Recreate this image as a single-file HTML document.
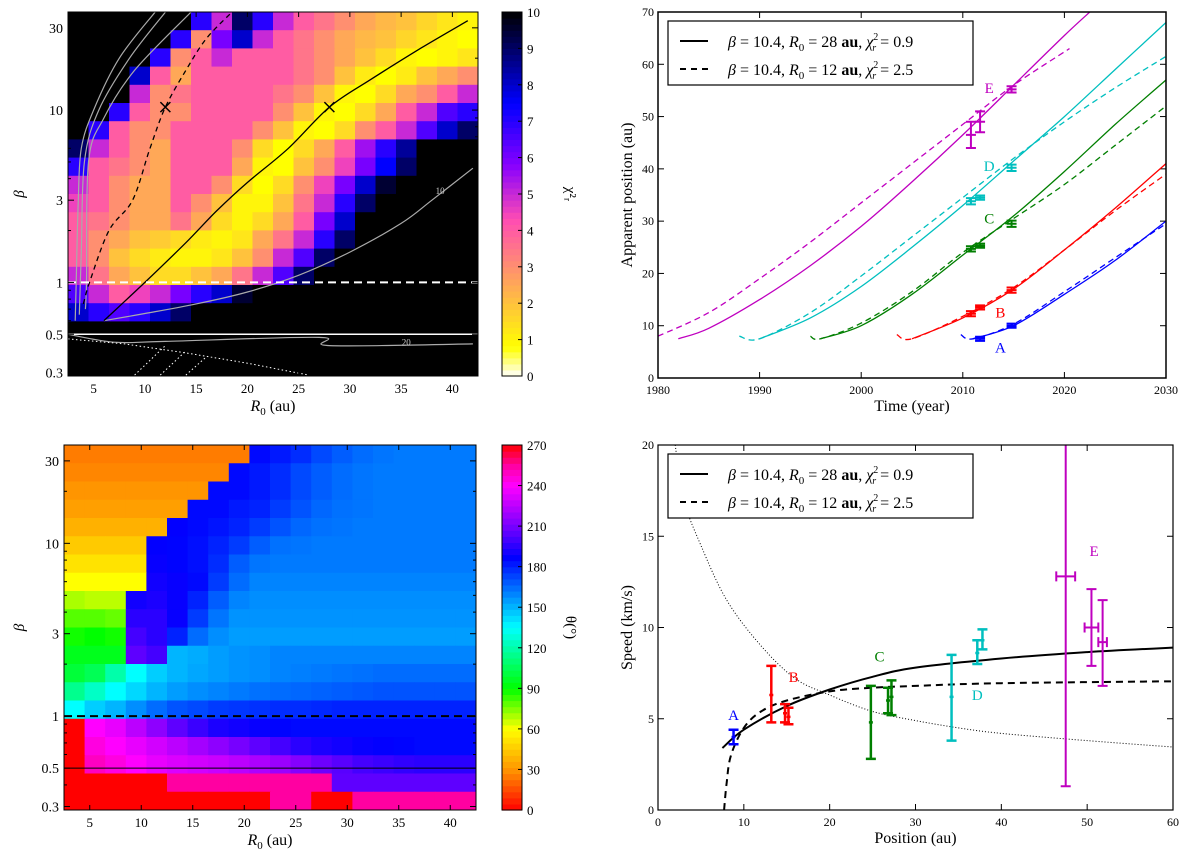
<!DOCTYPE html>
<html><head><meta charset="utf-8"><style>
body{margin:0;background:#fff;}
svg{display:block;font-family:"Liberation Serif",serif;}
</style></head><body>
<svg id="fig" width="1200" height="853" viewBox="0 0 1200 853" xmlns="http://www.w3.org/2000/svg"></svg>
<script>
// ---------- DATA ----------
const chiRows = [
[10,10,10,10,10,10,7,5,9,7,5,4,3.5,3,2.5,2.2,2,1.6,1.3,1.0],
[10,10,10,10,10,7,3,6,8,5,4,3.5,3,2.5,2.2,2,1.6,1.3,1.0,0.8],
[10,10,10,10,7,3,4,5,4,4,4,3.5,3,2.5,2,1.5,1,0.8,1,1.3],
[10,10,10,8,4,2.5,4,4,4,4,4,3.5,3,2,1.2,0.8,1.2,2,2.5,3],
[10,10,10,5,3,3.5,4,4,4,4,3.5,3,2,1,0.8,1.5,2.5,3,4,5],
[10,10,7,4,3,3,4,4,4,4,3,2,1,0.8,1.5,2.5,4,5,6.5,7],
[10,7,4,3,3,4,4,4,4,3,2,1,0.8,1.5,3,4,5,6.5,8,9],
[9,5,4,3,2.5,4,4,4,3,1.5,0.8,1.5,2.5,4,5.5,7,8.5,10,10,10],
[7,4,3.5,3,2.5,4,4,4,2.5,1,0.8,2,3,4.5,6,7.5,9,10,10,10],
[5,4,3,2.5,2.5,4,4,3,1.5,0.8,1.5,3,4.5,6,8,9.5,10,10,10,10],
[4.5,4,3,2.5,2.5,4,3,2,1,1,2,3.5,5,7,9,10,10,10,10,10],
[4,3.5,3,2.5,2.5,3.5,2.5,1.5,1,1.5,2.5,4,6,8,10,10,10,10,10,10],
[4,3,2.5,2,1.8,1.5,1.2,1,1.3,2.5,3.5,5,7,9,10,10,10,10,10,10],
[4,3,2,1.5,1.2,1,1,1.3,2,3,5,6.5,9,10,10,10,10,10,10,10],
[5,3.5,2.5,2,1.5,1.5,2,2.5,3.5,5,6.5,9,10,10,10,10,10,10,10,10],
[6.5,5,4,4.5,5,6,7,8,9.5,10,10,10,10,10,10,10,10,10,10,10],
[8,7,6.5,7,8,9,10,10,10,10,10,10,10,10,10,10,10,10,10,10],
[10,10,10,10,10,10,10,10,10,10,10,10,10,10,10,10,10,10,10,10],
[10,10,10,10,10,10,10,10,10,10,10,10,10,10,10,10,10,10,10,10],
[10,10,10,10,10,10,10,10,10,10,10,10,10,10,10,10,10,10,10,10]
];
const thetaRows = [
[25,25,25,25,25,25,25,25,25,185,182,178,172,168,165,163,162,162,162,162],
[27,27,27,27,27,27,27,27,185,182,178,172,168,165,163,162,162,162,162,162],
[30,30,30,30,30,30,30,185,185,182,178,172,168,165,163,162,162,162,162,162],
[33,33,33,33,33,33,185,185,182,180,175,170,166,164,163,162,162,162,162,162],
[38,38,38,38,38,187,185,183,180,175,170,166,164,163,162,162,162,162,162,162],
[45,45,45,45,187,186,184,180,175,168,164,163,162,162,162,162,162,162,162,162],
[52,52,52,52,188,186,184,178,168,163,162,162,162,162,162,162,162,162,162,162],
[60,60,60,60,190,188,185,175,165,160,160,160,160,160,160,160,160,160,160,160],
[70,68,68,190,192,188,180,168,160,158,158,158,158,158,158,158,158,158,158,158],
[80,80,78,195,195,188,175,163,157,157,157,157,157,157,157,157,157,157,157,157],
[88,90,88,200,195,180,165,158,155,155,155,155,155,155,155,155,155,155,155,155],
[95,95,95,205,200,150,152,155,157,158,160,160,160,160,160,160,160,160,160,160],
[100,105,120,135,145,150,153,155,157,158,160,161,162,163,164,165,165,165,165,165],
[115,125,135,143,150,155,158,160,162,164,165,166,167,168,169,170,170,170,170,170],
[135,145,150,158,165,170,172,175,176,177,178,178,179,180,180,180,180,180,180,180],
[0,240,235,225,215,205,198,192,190,188,186,185,185,185,185,185,185,185,185,185],
[0,245,240,235,230,225,220,215,210,205,200,195,192,190,188,187,186,185,185,185],
[0,250,245,240,235,232,230,228,225,222,218,213,208,204,200,198,196,195,195,195],
[0,0,0,0,0,255,255,255,255,255,255,255,255,205,205,205,205,205,205,205],
[0,0,0,0,0,0,0,0,0,0,255,255,0,0,255,255,255,255,255,255]
];
const validR0 = [6,10,14,17,20,24,28,32,37,41.5];
const validBeta = [0.6,1.0,1.7,2.6,3.8,6,10.4,15,23,33];
const dashR0 = [4,4.6,6.5,8.8,10.5,12,14,16,18.5];
const dashBeta = [0.75,1,2,3,6,10.4,17,26,37];
const c10R0 = [6,10,15,20,25,30,35,38,42];
const c10Beta = [0.6,0.66,0.75,0.88,1.1,1.5,2.2,3,4.6];
const cl1R0 = [3.2,3.3,3.5,3.8,5,7.5,11]; const cl1B = [0.6,1,3,6,10,20,37];
const cl2R0 = [3.6,3.8,4.1,5.5,8.5,12]; const cl2B = [0.65,1.5,5,10,20,37];
const cl3R0 = [4.2,4.3,4.5,6,9,14.5]; const cl3B = [0.7,1,5,9,17,37];
const c20R0 = [2.5,7,12,27,28,42]; const c20B = [0.5,0.45,0.455,0.48,0.43,0.44];
const bestR0 = [12,28]; const bestBeta = [10.4,10.4];

const Es_t=[1982,1985,1990,1995,2000,2005,2010,2015,2020,2022.5], Es_y=[7.5,9.5,15,21.5,29,37.5,46.5,56,65.5,70];
const Ed_t=[1980,1985,1990,1995,2000,2005,2010,2015,2020.5], Ed_y=[8,12.5,19,26,33.5,41,48.5,56,63];
const Ds_t=[1990,1995,2000,2005,2010,2015,2020,2025,2030], Ds_y=[7.5,11.5,17.5,25,33,41.5,50,59,68];
const Dd_t=[1988,1990,1995,2000,2005,2010,2015,2020,2025,2030], Dd_y=[8,7.5,12.5,19.5,27,34.5,42,49,55.5,61.5];
const Cs_t=[1996,2000,2005,2010,2015,2020,2025,2030], Cs_y=[7.5,10,16,23.5,31,39.5,48.5,57];
const Cd_t=[1995,1996,2000,2005,2010,2015,2020,2025,2030], Cd_y=[8,7.5,10.5,16.5,24,30.5,37,44.5,52];
const Bs_t=[2005,2010,2015,2020,2025,2030], Bs_y=[7.5,11.5,17,24.5,32.5,41];
const Bd_t=[2003.5,2005,2010,2015,2020,2025,2030], Bd_y=[8.3,7.5,11.8,17.3,24.5,32,39];
const As_t=[2011,2015,2020,2025,2030], As_y=[7.5,10,16,22.5,30];
const Ad_t=[2009.8,2011,2015,2020,2025,2030], Ad_y=[8.3,7.5,10.3,16.5,23,29.5];
const obsT = [2010.8,2011.7,2014.8, 2010.8,2011.7,2014.8, 2010.8,2011.7,2014.8, 2010.8,2011.7,2014.8, 2011.7,2014.8];
const obsP = [46.5,49,55.2, 33.8,34.5,40.2, 24.7,25.3,29.5, 12.3,13.5,16.8, 7.5,10];
const obsE = [2.5,2,0.6, 0.6,0.4,0.6, 0.5,0.4,0.6, 0.5,0.4,0.5, 0.4,0.4];
const obsC = ['E','E','E','D','D','D','C','C','C','B','B','B','A','A'];

const solidX=[7.5,10,15,20,25,30,40,50,60], solidV=[3.4,4.4,5.7,6.6,7.3,7.8,8.3,8.65,8.9];
const dashX=[7.7,8,8.5,10,12,15,20,25,30,40,60], dashV=[0,1.5,3,4.5,5.4,6,6.5,6.7,6.8,6.95,7.05];
const dotX=[2,3,5,8,12,16,20,25,30,35,40,50,60], dotV=[20,17,14.5,11.5,9,7.2,6.3,5.4,4.9,4.5,4.2,3.8,3.45];
const spX=[8.8,13.2,14.8,15.2,24.8,26.8,27.2,34.2,37.2,37.8,47.5,50.5,51.8];
const spV=[4.0,6.3,5.3,5.1,4.8,6.0,6.2,6.2,8.6,9.3,12.8,10,9.2];
const spLo=[3.6,4.8,4.8,4.7,2.8,5.3,5.2,3.8,8.0,8.8,1.3,7.9,6.8];
const spHi=[4.4,7.9,5.8,5.6,6.8,6.7,7.1,8.5,9.3,9.9,20.5,12.1,11.5];
const spXe=[0,0,0,0,0,0,0,0,0,0,1.1,0.8,0.5];
const spC=['A','B','B','B','C','C','C','D','D','D','E','E','E'];

const COL={A:'#0000ff',B:'#ff0000',C:'#007f00',D:'#00bfbf',E:'#bf00bf'};

// ---------- helpers ----------
const NS='http://www.w3.org/2000/svg';
const svg=document.getElementById('fig');
function mk(tag,attrs,parent){const e=document.createElementNS(NS,tag);for(const k in attrs)e.setAttribute(k,attrs[k]);(parent||svg).appendChild(e);return e;}
function txt(x,y,s,size,anchor,parent,extra){const t=mk('text',Object.assign({x:x,y:y,'font-size':size,'text-anchor':anchor||'middle'},extra||{}),parent);t.textContent=s;return t;}
function lin(d0,d1,p0,p1){return v=>p0+(v-d0)/(d1-d0)*(p1-p0);}
function gp2(v){let t=1-Math.min(10,Math.max(0,v))/10;const c=x=>Math.max(0,Math.min(1,x));
 let r=c(t/0.32-0.78125),g=c(2*t-0.84),b;
 if(t<0.25)b=4*t;else if(t<0.42)b=1;else if(t<0.92)b=-2*t+1.84;else b=t/0.08-11.5;b=c(b);
 return `rgb(${Math.round(r*255)},${Math.round(g*255)},${Math.round(b*255)})`;}
const hueStops=[[0,0],[30,35],[60,60],[90,120],[135,180],[180,232],[210,268],[240,300],[255,322],[270,360]];
function thetaCol(v){for(let i=1;i<hueStops.length;i++){if(v<=hueStops[i][0]){const a=hueStops[i-1],b=hueStops[i];const h=a[1]+(v-a[0])/(b[0]-a[0])*(b[1]-a[1]);return `hsl(${h},100%,50%)`;}}return 'hsl(0,100%,50%)';}
function pathD(xs,ys,fx,fy){return xs.map((x,i)=>(i?'L':'M')+fx(x).toFixed(1)+','+fy(ys[i]).toFixed(1)).join(' ');}
function smoothD(xs,ys,fx,fy){const p=xs.map((x,i)=>[fx(x),fy(ys[i])]);let d='M'+p[0][0].toFixed(1)+','+p[0][1].toFixed(1);
 for(let i=0;i<p.length-1;i++){const p0=p[Math.max(0,i-1)],p1=p[i],p2=p[i+1],p3=p[Math.min(p.length-1,i+2)];
  const c1=[p1[0]+(p2[0]-p0[0])/6,p1[1]+(p2[1]-p0[1])/6],c2=[p2[0]-(p3[0]-p1[0])/6,p2[1]-(p3[1]-p1[1])/6];
  d+=`C${c1[0].toFixed(1)},${c1[1].toFixed(1)} ${c2[0].toFixed(1)},${c2[1].toFixed(1)} ${p2[0].toFixed(1)},${p2[1].toFixed(1)}`;}
 return d;}

// ---------- heatmap panel ----------
function heatPanel(cfg){
 const g=mk('g',{});  
 const fx=lin(2.5,42.5,cfg.x0,cfg.x1), fy=v=>lin(-0.543,1.569,cfg.y1,cfg.y0)(Math.log10(v));
 const fly=lin(-0.543,1.569,cfg.y1,cfg.y0);
 const clip=mk('clipPath',{id:cfg.name+'-clip'},g);mk('rect',{x:cfg.x0,y:cfg.y0,width:cfg.x1-cfg.x0,height:cfg.y1-cfg.y0},clip);
 const cells=mk('g',{'clip-path':`url(#${cfg.name}-clip)`},g);
 
 const rows=cfg.data, nr=rows.length, nc=rows[0].length, dl=(1.569+0.543)/nr;
 for(let r=0;r<nr;r++)for(let c=0;c<nc;c++){
  const xa=fx(2.5+c*2), xb=fx(2.5+(c+1)*2), ya=fly(1.569-r*dl), yb=fly(1.569-(r+1)*dl);
  const cell=mk('rect',{x:xa,y:ya,width:xb-xa+0.6,height:yb-ya+0.6,fill:cfg.color(rows[r][c])},cells);
  
  
 }
 cfg.overlay(cells,fx,fy);
 mk('rect',{x:cfg.x0,y:cfg.y0,width:cfg.x1-cfg.x0,height:cfg.y1-cfg.y0,fill:'none',stroke:'#000','stroke-width':1},g);
 [5,10,15,20,25,30,35,40].forEach(v=>{const x=fx(v);mk('line',{x1:x,y1:cfg.y1,x2:x,y2:cfg.y1-5,stroke:'#000'},g);mk('line',{x1:x,y1:cfg.y0,x2:x,y2:cfg.y0+5,stroke:'#000'},g);
  const t=txt(x,cfg.y1+17,String(v),13,'middle',g);});
 [0.3,0.5,1,3,10,30].forEach(v=>{const y=fy(v);mk('line',{x1:cfg.x0,y1:y,x2:cfg.x0+6,y2:y,stroke:'#000'},g);mk('line',{x1:cfg.x1,y1:y,x2:cfg.x1-6,y2:y,stroke:'#000'},g);
  const t=txt(cfg.x0-5,y+5,String(v),14,'end',g);});
 [0.4,0.6,0.7,0.8,0.9,2,4,5,6,7,8,9,20].forEach(v=>{const y=fy(v);mk('line',{x1:cfg.x0,y1:y,x2:cfg.x0+3,y2:y,stroke:'#000'},g);mk('line',{x1:cfg.x1,y1:y,x2:cfg.x1-3,y2:y,stroke:'#000'},g);});
 const xl=txt((cfg.x0+cfg.x1)/2,cfg.y1+35,'',16,'middle',g);xl.innerHTML='<tspan font-style="italic">R</tspan><tspan font-size="11" dy="4">0</tspan><tspan dy="-4"> (au)</tspan>';
 
 const yl=txt(24,(cfg.y0+cfg.y1)/2,'β',15,'middle',g,{transform:`rotate(-90 24 ${(cfg.y0+cfg.y1)/2})`,'font-style':'italic'});
 
 const cb=mk('g',{},g);
 const N=60,cx0=502,cx1=522;
 for(let i=0;i<N;i++){const v=cfg.cmin+(i+0.5)/N*(cfg.cmax-cfg.cmin);const ya=cfg.y1-(i+1)/N*(cfg.y1-cfg.y0);
  mk('rect',{x:cx0,y:ya,width:cx1-cx0,height:(cfg.y1-cfg.y0)/N+0.6,fill:cfg.color(v)},cb);}
 mk('rect',{x:cx0,y:cfg.y0,width:cx1-cx0,height:cfg.y1-cfg.y0,fill:'none',stroke:'#000'},cb);
 cfg.cticks.forEach(v=>{const y=cfg.y1-(v-cfg.cmin)/(cfg.cmax-cfg.cmin)*(cfg.y1-cfg.y0);mk('line',{x1:cx1,y1:y,x2:cx1-4,y2:y,stroke:'#000'},cb);
  const t=txt(cx1+5,y+5,String(v),13,'start',cb);});
 const cl=txt(566,(cfg.y0+cfg.y1)/2,cfg.clabel,15,'middle',cb,{transform:`rotate(90 566 ${(cfg.y0+cfg.y1)/2})`});
 
}

heatPanel({name:'chi2-map',x0:68,x1:478,y0:12,y1:376,data:chiRows,color:gp2,cmin:0,cmax:10,cticks:[0,1,2,3,4,5,6,7,8,9,10],clabel:'χ²ᵣ',
 overlay:(g,fx,fy)=>{
  [[cl1R0,cl1B],[cl2R0,cl2B],[cl3R0,cl3B],[c10R0,c10Beta],[c20R0,c20B]].forEach(p=>{const e=mk('path',{d:smoothD(p[0],p[1],fx,fy),fill:'none',stroke:'#aaa','stroke-width':1.2},g);});
  txt(fx(38.8),fy(3.25),'10',9,'middle',g,{fill:'#ccc'});
  txt(fx(35.5),fy(0.43),'20',9,'middle',g,{fill:'#ccc'});
  [[9,0.29,12,0.43],[11.5,0.29,14,0.4],[14,0.29,16,0.37]].forEach(s=>mk('line',{x1:fx(s[0]),y1:fy(s[1]),x2:fx(s[2]),y2:fy(s[3]),stroke:'#fff','stroke-dasharray':'1.5 2.5','stroke-width':1},g));
  mk('path',{d:pathD([2.5,8,14,20,26],[0.47,0.44,0.39,0.34,0.29],fx,fy),fill:'none',stroke:'#fff','stroke-dasharray':'1.5 2.5'},g);
  const s=mk('path',{d:smoothD(validR0,validBeta,fx,fy),fill:'none',stroke:'#000','stroke-width':1.3},g);
  const d=mk('path',{d:smoothD(dashR0,dashBeta,fx,fy),fill:'none',stroke:'#000','stroke-width':1.3,'stroke-dasharray':'5 4'},g);
  mk('line',{x1:fx(2.5),y1:fy(1),x2:fx(42.5),y2:fy(1),stroke:'#fff','stroke-width':2,'stroke-dasharray':'8 5'},g);
  mk('line',{x1:fx(2.5),y1:fy(0.5),x2:fx(42.5),y2:fy(0.5),stroke:'#fff','stroke-width':1.5},g);
  bestR0.forEach((r,i)=>{const x=fx(r),y=fy(bestBeta[i]);const m=mk('path',{d:`M${x-5},${y-5}L${x+5},${y+5}M${x-5},${y+5}L${x+5},${y-5}`,stroke:'#000','stroke-width':1.5},g);});
 }});
heatPanel({name:'theta-map',x0:64,x1:476,y0:445,y1:810,data:thetaRows,color:thetaCol,cmin:0,cmax:270,cticks:[0,30,60,90,120,150,180,210,240,270],clabel:'θ(°)',
 overlay:(g,fx,fy)=>{
  mk('line',{x1:fx(2.5),y1:fy(1),x2:fx(42.5),y2:fy(1),stroke:'#000','stroke-width':2,'stroke-dasharray':'8 5'},g);
  mk('line',{x1:fx(2.5),y1:fy(0.5),x2:fx(42.5),y2:fy(0.5),stroke:'#000','stroke-width':1},g);
 }});

// ---------- line panels ----------
function frame(name,x0,x1,y0,y1,xt,yt,fx,fy,xlabel,ylabel){
 const g=mk('g',{});
 xt.forEach(v=>{const x=fx(v);mk('line',{x1:x,y1:y1,x2:x,y2:y1-6,stroke:'#000'},g);mk('line',{x1:x,y1:y0,x2:x,y2:y0+6,stroke:'#000'},g);
  const t=txt(x,y1+16,String(v),12,'middle',g);});
 yt.forEach(v=>{const y=fy(v);mk('line',{x1:x0,y1:y,x2:x0+6,y2:y,stroke:'#000'},g);mk('line',{x1:x1,y1:y,x2:x1-6,y2:y,stroke:'#000'},g);
  const t=txt(x0-4,y+4,String(v),12,'end',g);});
 const xl=txt((x0+x1)/2,y1+33,xlabel,16,'middle',g);
 const yl=txt(632,(y0+y1)/2,ylabel,16,'middle',g,{transform:`rotate(-90 632 ${(y0+y1)/2})`});
 return g;}
function legend(y0){
 const g=mk('g',{});
 mk('rect',{x:668,y:y0,width:305,height:64,fill:'#fff',stroke:'#000','stroke-width':1.2},g);
 const e1=mk('g',{},g);
 mk('line',{x1:680,y1:y0+20,x2:708,y2:y0+20,stroke:'#000','stroke-width':2},e1);
 const t1=txt(728,y0+26,'',16,'start',e1);t1.innerHTML='<tspan font-style="italic">β</tspan> = 10.4, <tspan font-style="italic">R</tspan><tspan font-size="11" dy="4">0</tspan><tspan dy="-4"> = 28 </tspan><tspan font-weight="bold">au</tspan>, <tspan font-style="italic">χ</tspan><tspan font-size="10" dy="-7">2</tspan><tspan font-size="10" dx="-6" dy="11" font-style="italic">r</tspan><tspan dy="-4"> = 0.9</tspan>';
 const e2=mk('g',{},g);
 mk('line',{x1:680,y1:y0+48,x2:708,y2:y0+48,stroke:'#000','stroke-width':2,'stroke-dasharray':'6 5'},e2);
 const t2=txt(728,y0+54,'',16,'start',e2);t2.innerHTML='<tspan font-style="italic">β</tspan> = 10.4, <tspan font-style="italic">R</tspan><tspan font-size="11" dy="4">0</tspan><tspan dy="-4"> = 12 </tspan><tspan font-weight="bold">au</tspan>, <tspan font-style="italic">χ</tspan><tspan font-size="10" dy="-7">2</tspan><tspan font-size="10" dx="-6" dy="11" font-style="italic">r</tspan><tspan dy="-4"> = 2.5</tspan>';
}

(function(){
 const x0=658,x1=1166,y0=12,y1=378;
 const fx=lin(1980,2030,x0,x1), fy=lin(0,70,y1,y0);
 const g=frame('position-time-chart',x0,x1,y0,y1,[1980,1990,2000,2010,2020,2030],[0,10,20,30,40,50,60,70],fx,fy,'Time (year)','Apparent position (au)');
 const clip=mk('clipPath',{id:'ptclip'},g);mk('rect',{x:x0,y:y0,width:x1-x0,height:y1-y0},clip);
 const pg=mk('g',{'clip-path':'url(#ptclip)'},g);
 const series=[['E',Es_t,Es_y,Ed_t,Ed_y],['D',Ds_t,Ds_y,Dd_t,Dd_y],['C',Cs_t,Cs_y,Cd_t,Cd_y],['B',Bs_t,Bs_y,Bd_t,Bd_y],['A',As_t,As_y,Ad_t,Ad_y]];
 series.forEach(s=>{
  const a=mk('path',{d:smoothD(s[1],s[2],fx,fy),fill:'none',stroke:COL[s[0]],'stroke-width':1.3},pg);
  
  const b=mk('path',{d:smoothD(s[3],s[4],fx,fy),fill:'none',stroke:COL[s[0]],'stroke-width':1.3,'stroke-dasharray':'6 4'},pg);
  
 });
 obsT.forEach((t,i)=>{const x=fx(t),ya=fy(obsP[i]-obsE[i]),yb=fy(obsP[i]+obsE[i]),c=COL[obsC[i]];
  const e=mk('path',{d:`M${x},${ya}L${x},${yb}M${x-5},${ya}L${x+5},${ya}M${x-5},${yb}L${x+5},${yb}M${x-5},${fy(obsP[i])}L${x+5},${fy(obsP[i])}`,stroke:c,'stroke-width':2,fill:'none'},g);
  });
 [['E',2012.6,55.5],['D',2012.6,40.5],['C',2012.6,30.5],['B',2013.7,12.5],['A',2013.7,5.8]].forEach(l=>{
  const t=txt(fx(l[1]),fy(l[2])+5,l[0],15,'middle',g,{fill:COL[l[0]]});});
 mk('rect',{x:x0,y:y0,width:x1-x0,height:y1-y0,fill:'none',stroke:'#000','stroke-width':1.5},g);
 legend(21);
})();

(function(){
 const x0=658,x1=1173,y0=445,y1=810;
 const fx=lin(0,60,x0,x1), fy=lin(0,20,y1,y0);
 const g=frame('speed-position-chart',x0,x1,y0,y1,[0,10,20,30,40,50,60],[0,5,10,15,20],fx,fy,'Position (au)','Speed (km/s)');
 const clip=mk('clipPath',{id:'spclip'},g);mk('rect',{x:x0,y:y0,width:x1-x0,height:y1-y0},clip);
 const pg=mk('g',{'clip-path':'url(#spclip)'},g);
 const d1=mk('path',{d:smoothD(dotX,dotV,fx,fy),fill:'none',stroke:'#000','stroke-width':1,'stroke-dasharray':'1 2'},pg);
 const d2=mk('path',{d:smoothD(solidX,solidV,fx,fy),fill:'none',stroke:'#000','stroke-width':2},pg);
 const d3=mk('path',{d:smoothD(dashX,dashV,fx,fy),fill:'none',stroke:'#000','stroke-width':2,'stroke-dasharray':'7 5'},pg);
 spX.forEach((p,i)=>{const x=fx(p),ya=fy(spLo[i]),yb=fy(Math.min(spHi[i],20.5)),y=fy(spV[i]),c=COL[spC[i]];
  let d=`M${x},${ya}L${x},${yb}M${x-5},${ya}L${x+5},${ya}M${x-5},${yb}L${x+5},${yb}`;
  if(spXe[i]>0){const xa=fx(p-spXe[i]),xb=fx(p+spXe[i]);d+=`M${xa},${y}L${xb},${y}M${xa},${y-5}L${xa},${y+5}M${xb},${y-5}L${xb},${y+5}`;}
  else d+=`M${x-2},${y}L${x+2},${y}`;
  const e=mk('path',{d:d,stroke:c,'stroke-width':spXe[i]>0?2:2.5,fill:'none'},pg);
  });
 [['A',8.8,5.2],['B',15.8,7.3],['C',25.8,8.4],['D',37.2,6.3],['E',50.8,14.2]].forEach(l=>{
  const t=txt(fx(l[1]),fy(l[2])+5,l[0],15,'middle',g,{fill:COL[l[0]]});});
 mk('rect',{x:x0,y:y0,width:x1-x0,height:y1-y0,fill:'none',stroke:'#000','stroke-width':1.2},g);
 legend(454);
})();
</script>
</body></html>
